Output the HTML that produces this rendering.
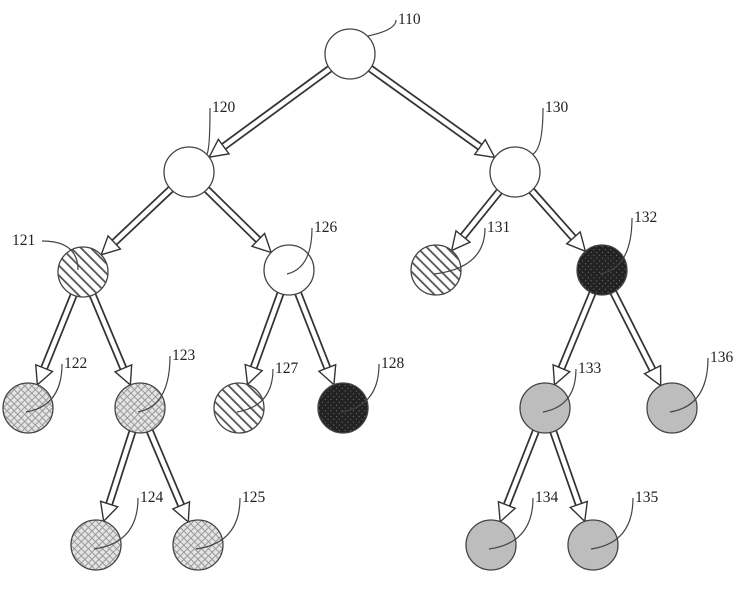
<!DOCTYPE html>
<html><head><meta charset="utf-8"><style>
html,body{margin:0;padding:0;background:#fff}
svg{display:block}
text{font-family:"Liberation Serif",serif;font-size:15.5px;fill:#222}
</style></head><body>
<svg id="s" width="745" height="615" viewBox="0 0 745 615" xmlns="http://www.w3.org/2000/svg">
<defs>
<pattern id="hatch" width="7" height="7" patternUnits="userSpaceOnUse" patternTransform="rotate(-45)">
<rect width="7" height="7" fill="#fff"/><rect width="1.8" height="7" fill="#555"/></pattern>
<pattern id="cross" width="5" height="5" patternUnits="userSpaceOnUse" patternTransform="rotate(45)">
<rect width="5" height="5" fill="#e4e4e4"/><rect width="1" height="5" fill="#999"/><rect width="5" height="1" fill="#999"/></pattern>
<pattern id="dark" width="4" height="4" patternUnits="userSpaceOnUse" patternTransform="rotate(45)">
<rect width="4" height="4" fill="#222"/><rect width="1" height="1" fill="#777"/></pattern>
</defs>
<g id="arrows"></g><g id="nodes"></g><g id="labels"></g>
</svg>
<script>
var N={110:[350,54,'#fff'],120:[189,172,'#fff'],130:[515,172,'#fff'],121:[83,272,'url(#hatch)'],126:[289,270,'#fff'],131:[436,270,'url(#hatch)'],132:[602,270,'url(#dark)'],
122:[28,408,'url(#cross)'],123:[140,408,'url(#cross)'],127:[239,408,'url(#hatch)'],128:[343,408,'url(#dark)'],133:[545,408,'#bdbdbd'],136:[672,408,'#bdbdbd'],
124:[96,545,'url(#cross)'],125:[198,545,'url(#cross)'],134:[491,545,'#bdbdbd'],135:[593,545,'#bdbdbd']};
var E=[[110,120],[110,130],[120,121],[120,126],[130,131],[130,132],[121,122],[121,123],[126,127],[126,128],[132,133],[132,136],[123,124],[123,125],[133,134],[133,135]];
var L={110:[398,24],120:[212,112],130:[545,112],121:[12,245],126:[314,232],131:[487,232],132:[634,222],122:[64,368],123:[172,360],127:[275,373],128:[381,368],133:[578,373],136:[710,362],124:[140,502],125:[242,502],134:[535,502],135:[635,502]};
var R=25,s='';
E.forEach(function(e){var a=N[e[0]],b=N[e[1]];var dx=b[0]-a[0],dy=b[1]-a[1],d=Math.hypot(dx,dy),ux=dx/d,uy=dy/d;
var x1=a[0]+ux*R,y1=a[1]+uy*R,x2=b[0]-ux*R,y2=b[1]-uy*R;var hx=x2-ux*18,hy=y2-uy*18;var px=-uy,py=ux;
s+='<line x1="'+x1+'" y1="'+y1+'" x2="'+hx+'" y2="'+hy+'" stroke="#333" stroke-width="8"/>';
s+='<line x1="'+x1+'" y1="'+y1+'" x2="'+(hx+ux*2)+'" y2="'+(hy+uy*2)+'" stroke="#fff" stroke-width="4.5"/>';
s+='<polygon points="'+x2+','+y2+' '+(hx+px*9)+','+(hy+py*9)+' '+(hx-px*9)+','+(hy-py*9)+'" fill="#fff" stroke="#333" stroke-width="1.4"/>';});
document.getElementById('arrows').innerHTML=s;s='';
for(var k in N){var n=N[k];s+='<circle cx="'+n[0]+'" cy="'+n[1]+'" r="'+R+'" fill="'+n[2]+'" stroke="#444" stroke-width="1.3"/>';}
document.getElementById('nodes').innerHTML=s;s='';
for(var k in L){var l=L[k],n=N[k];var left=(k=='121');var sx=left?l[0]+30:l[0]-2,sy=l[1]-4;
var tx=left?n[0]-5:n[0]+(k==110||k==120||k==130?18:-2),ty=left?n[1]-2:n[1]+(k==110||k==120||k==130?-18:4);
s+='<text x="'+l[0]+'" y="'+l[1]+'">'+k+'</text>';
s+='<path d="M'+sx+','+sy+' Q'+(left?tx:sx)+','+(left?sy:ty-6)+' '+tx+','+ty+'" fill="none" stroke="#444" stroke-width="1.2"/>';}
document.getElementById('labels').innerHTML=s;
</script>
</body></html>
